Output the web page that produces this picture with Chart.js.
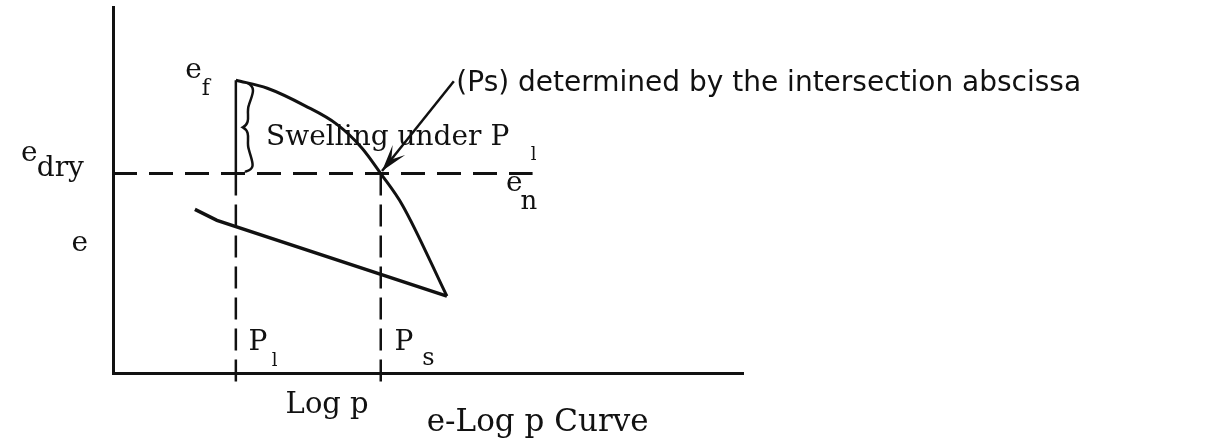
<!DOCTYPE html>
<html lang="en">
<head>
  <meta charset="UTF-8" />
  <title>e-Log p Curve</title>
  <script src="https://cdn.jsdelivr.net/npm/chart.js"></script>
  <style>
    body { margin: 0; background: #fff; }
    .wrap { position: relative; width: 1226px; height: 447px; }
  </style>
</head>
<body>
  <div class="wrap"><canvas id="curve"></canvas></div>

  <script>
    // log p on x, void ratio e on y (arbitrary units)
    const pL = 1.95;     // applied pressure P_l
    const pS = 4.25;     // swelling pressure P_s
    const eF = 8.0;      // e_f after swelling under P_l
    const eDry = 5.45;   // e_dry = e_n

    // loading branch after swelling
    const loadX = [1.95, 2.45, 3.05, 3.55, 3.95, 4.25, 4.59, 5.3];
    const loadY = [8.0, 7.78, 7.3, 6.8, 6.15, 5.45, 4.6, 2.1];

    // unloading line
    const unloadX = [1.3, 1.65, 5.3];
    const unloadY = [4.47, 4.17, 2.1];

    // arrow to the intersection
    const arrowX = [5.41, 4.27];
    const arrowY = [7.97, 5.52];

    const xMin = 0, xMax = 10, yMin = 0, yMax = 10;
    const dropY = -0.4;   // dashed verticals run a little under the axis

    const serif = "'DejaVu Serif', serif";
    const hand = "'DejaVu Sans', sans-serif";

    // text: [string, x, y (baseline), px size, font, maxWidth]
    const notes = [
      ['e', 1.145, 8.05, 28, serif],
      ['f', 1.41, 7.59, 22, serif],
      ['e', -1.46, 5.80, 28, serif],
      ['dry', -1.21, 5.37, 28, serif],
      ['e', -0.66, 3.32, 28, serif],
      ['e', 6.24, 4.97, 28, serif],
      ['n', 6.47, 4.49, 26, serif],
      ['Swelling under P', 2.43, 6.23, 28, serif],
      ['l', 6.63, 5.83, 18, serif],
      ['P', 2.15, 0.64, 28, serif],
      ['l', 2.52, 0.19, 18, serif],
      ['P', 4.47, 0.64, 28, serif],
      ['s', 4.91, 0.21, 24, serif],
      ['Log p', 2.74, -1.10, 29, serif],
      ['e-Log p Curve', 4.98, -1.58, 31, serif],
      ['(Ps) determined by the intersection abscissa', 5.45, 7.70, 28, hand, 650]
    ];

    const toPts = (xs, ys) => xs.map((x, i) => ({ x, y: ys[i] }));

    const ink = '#111';

    // brace, arrow head and all the lettering
    const decor = {
      id: 'decor',
      afterDatasetsDraw(chart) {
        const { ctx, scales: { x, y } } = chart;
        ctx.save();

        // brace between e_f and e_dry
        const bx = x.getPixelForValue(pL);
        const top = y.getPixelForValue(eF) + 3;
        const bot = y.getPixelForValue(eDry) - 2;
        const mid = (top + bot) / 2;
        const r = bx + 18, m = bx + 13, l = bx + 7;
        ctx.strokeStyle = ink;
        ctx.lineWidth = 2.5;
        ctx.lineCap = 'round';
        ctx.beginPath();
        ctx.moveTo(r - 6, top);
        ctx.bezierCurveTo(r + 3, top + 5, m + 3, top + 12, m, top + 22);
        ctx.bezierCurveTo(m - 3, mid - 14, m + 3, mid - 5, l, mid);
        ctx.bezierCurveTo(m + 3, mid + 5, m - 3, mid + 14, m, bot - 22);
        ctx.bezierCurveTo(m + 3, bot - 10, r + 3, bot - 3, r - 8, bot);
        ctx.stroke();

        // arrow head at the end of the arrow line
        const x0 = x.getPixelForValue(arrowX[0]), y0 = y.getPixelForValue(arrowY[0]);
        const x1 = x.getPixelForValue(arrowX[1]), y1 = y.getPixelForValue(arrowY[1]);
        const a = Math.atan2(y1 - y0, x1 - x0);
        const len = 27, half = 8;
        ctx.fillStyle = ink;
        ctx.beginPath();
        ctx.moveTo(x1, y1);
        ctx.lineTo(x1 - len * Math.cos(a) + half * Math.sin(a), y1 - len * Math.sin(a) - half * Math.cos(a));
        ctx.lineTo(x1 - 0.55 * len * Math.cos(a), y1 - 0.55 * len * Math.sin(a));
        ctx.lineTo(x1 - len * Math.cos(a) - half * Math.sin(a), y1 - len * Math.sin(a) + half * Math.cos(a));
        ctx.closePath();
        ctx.fill();

        // labels
        ctx.textAlign = 'left';
        ctx.textBaseline = 'alphabetic';
        notes.forEach(([t, tx, ty, size, face, maxW]) => {
          ctx.font = size + 'px ' + face;
          const px = x.getPixelForValue(tx), py = y.getPixelForValue(ty);
          if (maxW) ctx.fillText(t, px, py, maxW);
          else ctx.fillText(t, px, py);
        });
        ctx.restore();
      }
    };

    const line = (data, extra) => Object.assign({
      data,
      showLine: true,
      borderColor: ink,
      borderWidth: 3,
      pointRadius: 0,
      tension: 0,
      clip: false
    }, extra);

    new Chart(document.getElementById('curve'), {
      type: 'scatter',
      data: {
        datasets: [
          line(toPts([xMin, 6.66], [eDry, eDry]), { borderDash: [24, 12], borderWidth: 3 }),
          line(toPts([pL, pL], [eDry, dropY]), { borderDash: [22, 9], borderWidth: 2.5 }),
          line(toPts([pS, pS], [eDry, dropY]), { borderDash: [22, 9], borderWidth: 2.5 }),
          line(toPts([pL, pL], [eF, eDry]), { borderWidth: 2.5 }),
          line(toPts(loadX, loadY), { cubicInterpolationMode: 'monotone' }),
          line(toPts(unloadX, unloadY), { borderWidth: 3.5 }),
          line(toPts(arrowX, arrowY), { borderWidth: 2.5 })
        ]
      },
      options: {
        responsive: true,
        maintainAspectRatio: false,
        animation: false,
        layout: { padding: { left: 105, top: 7, right: 483, bottom: 66 } },
        plugins: { legend: { display: false }, tooltip: { enabled: false } },
        scales: {
          x: {
            type: 'linear', min: xMin, max: xMax,
            grid: { display: false },
            ticks: { display: false },
            border: { display: true, color: ink, width: 3 }
          },
          y: {
            type: 'linear', min: yMin, max: yMax,
            grid: { display: false },
            ticks: { display: false },
            border: { display: true, color: ink, width: 3 }
          }
        }
      },
      plugins: [decor]
    });
  </script>
</body>
</html>
